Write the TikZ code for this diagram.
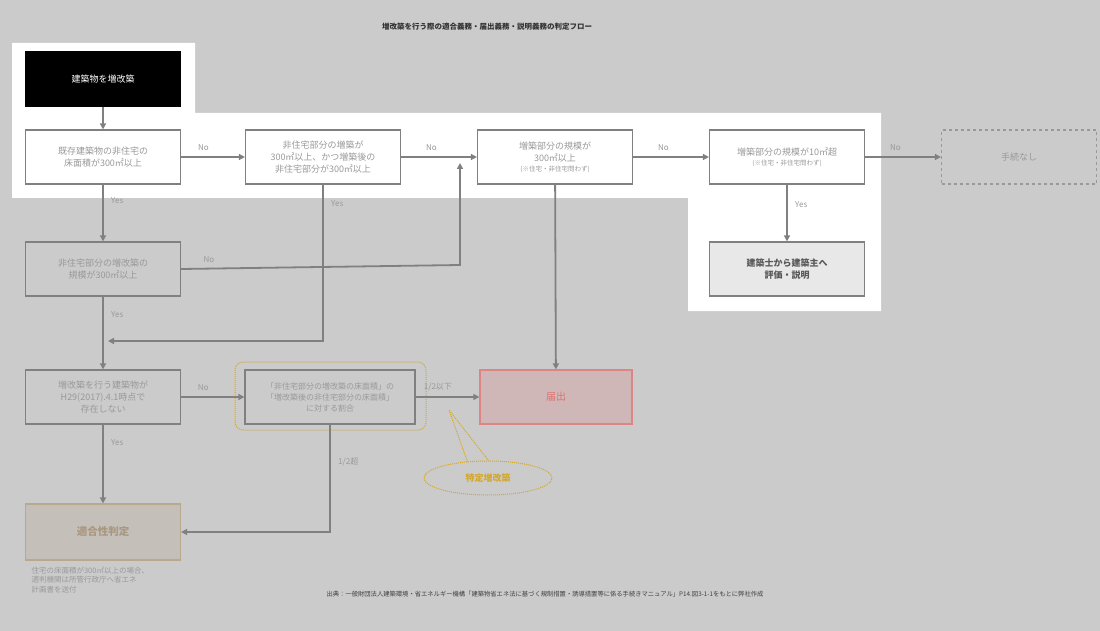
\documentclass[tikz,border=0pt]{standalone}
\usepackage{fontspec}
\setmainfont{Noto Sans CJK JP}
\usetikzlibrary{arrows.meta,shapes.geometric}
\definecolor{bg}{HTML}{CBCBCB}
\definecolor{ln}{HTML}{808080}
\definecolor{tx}{HTML}{999999}
\definecolor{yel}{HTML}{D4A82A}
\definecolor{kfill}{HTML}{C4BFB8}
\definecolor{kdraw}{HTML}{B8A88C}
\definecolor{ktext}{HTML}{A89880}
\begin{document}
\begin{tikzpicture}[x=1pt,y=-1pt,
  box/.style={draw=ln,line width=1.2pt,minimum width=155pt,minimum height=54pt,align=center,font=\fontsize{9}{12}\selectfont,text=tx,inner sep=1pt},
  arr/.style={draw=ln,line width=1.8pt,-{Triangle[length=6pt,width=6pt]}},
  lbl/.style={font=\fontsize{8}{10}\selectfont,text=tx}]
\fill[bg] (0,0) rectangle (1100,631);
\useasboundingbox (0,0) rectangle (1100,631);
\fill[white] (12,43) -- (195,43) -- (195,113) -- (881,113) -- (881,311) -- (688,311) -- (688,198) -- (12,198) -- cycle;
\node[font=\bfseries\fontsize{7.5}{9}\selectfont,text=black!80] (title) at (487,27) {増改築を行う際の適合義務・届出義務・説明義務の判定フロー};
\node[box,fill=black,draw=black,text=white] (s) at (103,79) {建築物を増改築};
\node[box,fill=white] (a) at (103,157) {既存建築物の非住宅の\\床面積が300㎡以上};
\node[box,fill=white] (b) at (323,157) {非住宅部分の増築が\\300㎡以上、かつ増築後の\\非住宅部分が300㎡以上};
\node[box,fill=white] (c) at (555,157) {増築部分の規模が\\300㎡以上\\[-2pt]{\fontsize{6.5}{8}\selectfont(※住宅・非住宅問わず)}};
\node[box,fill=white] (d) at (787,157) {増築部分の規模が10㎡超\\[-2pt]{\fontsize{6.5}{8}\selectfont(※住宅・非住宅問わず)}};
\node[box,fill=bg,dashed,draw=ln!80,text=tx] (e) at (1019,157) {手続なし};
\node[box,fill=black!9,text=black!65,font=\bfseries\fontsize{9}{12}\selectfont] (f) at (787,269) {建築士から建築主へ\\評価・説明};
\node[box,fill=bg] (g) at (103,269) {非住宅部分の増改築の\\規模が300㎡以上};
\node[box,fill=bg] (h) at (103,397) {増改築を行う建築物が\\H29(2017).4.1時点で\\存在しない};
\draw[yel,densely dotted,line width=1pt,rounded corners=8pt] (235,362) rectangle (426,430);
\node[box,fill=bg,minimum width=170pt,font=\fontsize{8}{11}\selectfont] (i) at (330,397) {「非住宅部分の増改築の床面積」の\\「増改築後の非住宅部分の床面積」\\に対する割合};
\node[box,fill=red!10!bg,draw=red!35!bg,text=red!45!bg,minimum width=152pt,font=\fontsize{10}{12}\selectfont] (j) at (556,397) {届出};
\node[box,fill=kfill,draw=kdraw,text=ktext,font=\bfseries\fontsize{10.5}{12}\selectfont,minimum height=56pt] (k) at (103,532) {適合性判定};
% callout
\coordinate (tip) at (449,410);
\draw[yel,densely dotted,line width=1pt] (469,466) -- (tip) -- (492,465);
\node[ellipse,draw=yel,densely dotted,line width=1pt,fill=bg,minimum width=128pt,minimum height=34pt,text=yel,font=\bfseries\fontsize{9}{11}\selectfont] (cl) at (488,478) {特定増改築};
% arrows
\draw[arr] (s) -- (a);
\draw[arr] (a) -- node[lbl,above=2pt,pos=0.35]{No} (b);
\draw[arr] (b) -- node[lbl,above=2pt,pos=0.4]{No} (c);
\draw[arr] (c) -- node[lbl,above=2pt,pos=0.4]{No} (d);
\draw[arr] (d) -- node[lbl,above=2pt,pos=0.4]{No} (e);
\draw[arr] (d) -- node[lbl,right=4pt,pos=0.35]{Yes} (f);
\draw[arr] (a) -- node[lbl,right=4pt,pos=0.28]{Yes} (g);
\coordinate (gn) at (460,265);
\draw[arr] (g.east) -- node[lbl,above=2pt,pos=0.1]{No} (gn) -- (460,163);
\coordinate (by) at (323,341);
\draw[arr] (b) -- node[lbl,right=4pt,pos=0.12]{Yes} (by) -- (108,341);
\draw[arr] (g) -- node[lbl,right=4pt,pos=0.25]{Yes} (h);
\draw[arr] (h) -- node[lbl,above=2pt,pos=0.35]{No} (i);
\draw[arr] (i) -- node[lbl,above=2pt,pos=0.35]{1/2以下} (j);
\draw[arr] (c) -- (j);
\coordinate (ik) at (330,532);
\draw[arr] (i) -- node[lbl,right=4pt,pos=0.35]{1/2超} (ik) -- (k);
\draw[arr] (h) -- node[lbl,right=4pt,pos=0.23]{Yes} (k);
\node[anchor=north west,align=left,text=tx,font=\fontsize{7.5}{9.5}\selectfont] (note) at (28,563) {住宅の床面積が300㎡以上の場合、\\適判機関は所管行政庁へ省エネ\\計画書を送付};
\node[text=black!75,font=\fontsize{6.3}{8}\selectfont] (src) at (545,594) {出典：一般財団法人建築環境・省エネルギー機構「建築物省エネ法に基づく規制措置・誘導措置等に係る手続きマニュアル」P14.図3-1-1をもとに弊社作成};
\end{tikzpicture}
\end{document}
